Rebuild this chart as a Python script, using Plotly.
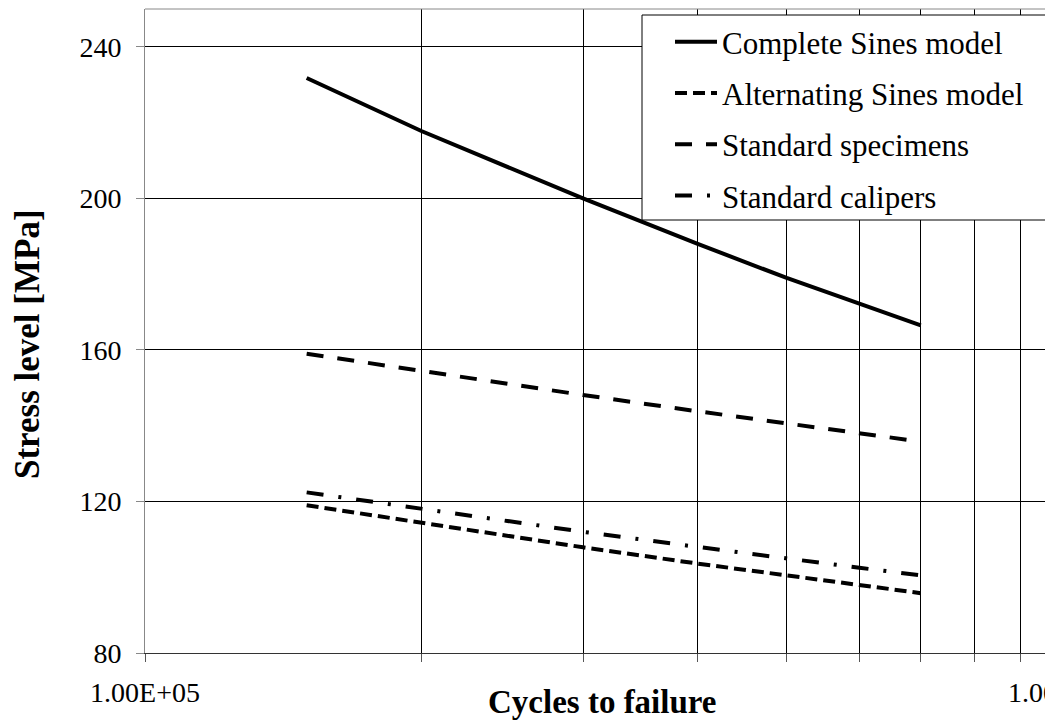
import plotly.graph_objects as go

cycles = [1.5e5, 2e5, 3e5, 4e5, 5e5, 6e5, 7e5]
complete_sines = [231.8, 217.8, 200.0, 188.0, 179.0, 172.2, 166.5]
alternating_sines = [119.0, 114.3, 107.9, 103.6, 100.4, 97.9, 95.8]
standard_specimens = [159.0, 154.4, 148.1, 143.8, 140.6, 138.0, 135.8]
standard_calipers = [122.4, 118.0, 112.0, 108.0, 104.9, 102.5, 100.5]

series_names = ["Complete Sines model", "Alternating Sines model",
                "Standard specimens", "Standard calipers"]
y_ticks = [80, 120, 160, 200, 240]
x_grid = [1e5, 2e5, 3e5, 4e5, 5e5, 6e5, 7e5, 8e5, 9e5, 1e6]
x_ticktext = ["1.00E+05"] + [""] * 8 + ["1.00E+06"]

SERIF = "Liberation Serif"
OFF = 8  # page body margin
W, H = 1053 - OFF, 722 - OFF
L, T = 145 - OFF, 9 - OFF
B = H - (653 - OFF)
plot_w = W - L
plot_h = H - T - B
decade_px = 918


def px_x(xr):
    return (xr - 145) / plot_w


def px_y(yr):
    return 1 - (yr - 9) / plot_h


fig = go.Figure()
dashes = ["solid", "12px,6px", "17px,14px", "17px,15px,3px,15px"]
for i, (name, ys, dsh) in enumerate(zip(series_names,
                                         [complete_sines, alternating_sines,
                                          standard_specimens, standard_calipers],
                                         dashes)):
    fig.add_trace(go.Scatter(x=cycles, y=ys, mode="lines", name=name,
                             legendgroup=f"g{i}",
                             line=dict(color="black", width=4, dash=dsh)))

fig.update_layout(
    width=W, height=H,
    margin=dict(l=L, r=0, t=T, b=B),
    paper_bgcolor="white", plot_bgcolor="white",
    font=dict(family=SERIF, color="black", size=28),
    showlegend=True,
    legend=dict(x=px_x(642), y=px_y(15),
                xanchor="left", yanchor="top",
                bgcolor="rgba(0,0,0,0)", borderwidth=0,
                traceorder="grouped", tracegroupgap=8,
                font=dict(family=SERIF, size=31, color="black"),
                itemwidth=42, indentation=28),
    xaxis=dict(type="log", range=[5, 5 + plot_w / decade_px],
               tickvals=x_grid, ticktext=x_ticktext,
               showgrid=True, gridcolor="black", gridwidth=1,
               showline=True, linecolor="#333333", linewidth=1,
               ticks="outside", ticklen=8, tickcolor="#555555",
               tickfont=dict(family=SERIF, size=28, color="black"),
               ticklabelstandoff=6, zeroline=False),
    yaxis=dict(range=[80, 250], tickvals=y_ticks,
               showgrid=True, gridcolor="black", gridwidth=1,
               showline=True, linecolor="#888888", linewidth=1,
               ticks="outside", ticklen=8, tickcolor="#888888",
               tickfont=dict(family=SERIF, size=28, color="black"),
               ticklabelstandoff=9, zeroline=False),
    shapes=[
        dict(type="line", xref="paper", yref="paper", x0=0, x1=1.2, y0=1, y1=1,
             line=dict(color="#888888", width=1)),
        dict(type="rect", xref="paper", yref="paper",
             x0=px_x(642), x1=1.2, y0=px_y(220), y1=px_y(15),
             fillcolor="white", line=dict(color="black", width=1), layer="above"),
    ],
    annotations=[
        dict(text="<b>Stress level [MPa]</b>", xref="paper", yref="paper",
             x=px_x(27), y=px_y(344), textangle=-90,
             xanchor="center", yanchor="middle", showarrow=False,
             font=dict(family=SERIF, size=35, color="black")),
        dict(text="<b>Cycles to failure</b>", xref="paper", yref="paper",
             x=px_x(602), y=px_y(702),
             xanchor="center", yanchor="middle", showarrow=False,
             font=dict(family=SERIF, size=33, color="black")),
        dict(text="1.00E+06", xref="paper", yref="paper",
             x=px_x(145 + decade_px), y=px_y(693),
             xanchor="center", yanchor="middle", showarrow=False,
             font=dict(family=SERIF, size=28, color="black")),
    ],
)

fig.write_html("out.html")
